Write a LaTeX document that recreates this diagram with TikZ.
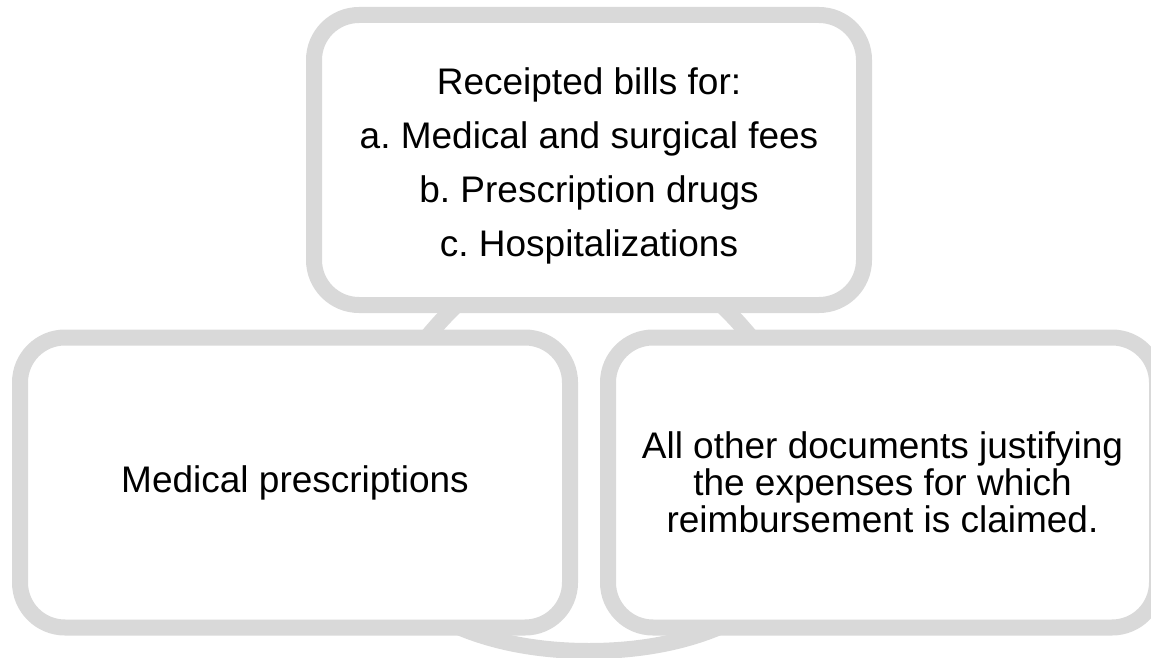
\documentclass[tikz,border=0pt]{standalone}
\usepackage{fontspec}
\setmainfont{Liberation Sans}
\frenchspacing
\definecolor{boxgray}{RGB}{217,217,217}

\begin{document}
\begin{tikzpicture}[x=0.5pt,y=-0.5pt]
        \tikzstyle{block}=[draw=boxgray,line width=8pt,fill=white,rounded corners=22.5pt,
                minimum width=275pt,minimum height=145pt,align=center,
                font=\fontsize{18.5pt}{18.5pt}\selectfont]
        \tikzstyle{ring}=[draw=boxgray,line width=8pt]

        \clip (0,0) rectangle (1151,658);

        % ring behind the three boxes
        \draw[ring] (441,321) .. controls (267,513) and (389,651) .. (589,651)
                .. controls (789,651) and (911,513) .. (737,321)
                .. controls (683,262) and (638,250) .. (589,250)
                .. controls (540,250) and (495,262) .. (441,321) -- cycle;

        \node[block](bills) at (589,160){\rule{0pt}{19.5pt}Receipted bills for:\\[8.5pt]
                a. Medical and surgical fees\\[8.5pt]
                b. Prescription drugs\\[8.5pt]
                c. Hospitalizations};
        \node[block](presc) at (295,482.5){Medical prescriptions};
        \node[block,minimum width=274.5pt](other) at (882.5,482.5){All other documents justifying\\
                the expenses for which\\
                reimbursement is claimed.};

    \end{tikzpicture}
\end{document}
